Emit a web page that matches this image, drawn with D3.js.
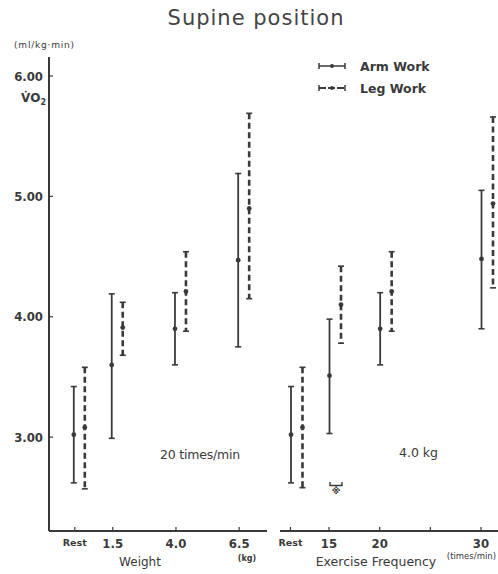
<!DOCTYPE html>
<html><head><meta charset="utf-8">
<script src="https://cdn.jsdelivr.net/npm/d3@7"></script>
<style>body{margin:0;background:#fff}svg{display:block}</style>
</head><body><svg id="c" width="498" height="574"></svg>
<script>
// ---- data ----
const weightLabels = ["Rest", "1.5", "4.0", "6.5"];
const weightPos = [0, 1.5, 4.0, 6.5];           // kg (Rest drawn at 0)
const freqLabels = ["Rest", "15", "20", "30"];
const freqPos = [11.2, 15, 20, 30];             // times/min (Rest slot)
const freqTicks = [11.2, 15, 20, 25, 30];
const yTicks = [3.00, 4.00, 5.00, 6.00];

// Weight panel (20 times/min)
const armW_mean = [3.02, 3.60, 3.90, 4.47];
const armW_hi   = [3.42, 4.19, 4.20, 5.19];
const armW_lo   = [2.62, 2.99, 3.60, 3.75];
const legW_mean = [3.08, 3.91, 4.21, 4.90];
const legW_hi   = [3.58, 4.12, 4.54, 5.69];
const legW_lo   = [2.57, 3.68, 3.88, 4.15];

// Frequency panel (4.0 kg)
const armF_mean = [3.02, 3.51, 3.90, 4.48];
const armF_hi   = [3.42, 3.98, 4.20, 5.05];
const armF_lo   = [2.62, 3.03, 3.60, 3.90];
const legF_mean = [3.08, 4.10, 4.21, 4.94];
const legF_hi   = [3.58, 4.42, 4.54, 5.66];
const legF_lo   = [2.58, 3.78, 3.88, 4.24];

// ---- drawing ----
const svg = d3.select("#c");
const ink = "#3a3a3a";
const font = "'DejaVu Sans', Arial, sans-serif";
const narrow = "'Liberation Sans Narrow', 'DejaVu Sans Condensed', sans-serif";

const y = d3.scaleLinear().domain([2.22, 6.00]).range([531, 76]);
const xW = d3.scaleLinear().domain([-1.02, 7.6]).range([49, 267]);
const xF = d3.scaleLinear().domain([15, 30]).range([329, 481]);

// title
svg.append("text").attr("x", 256).attr("y", 25).attr("text-anchor", "middle")
  .attr("font-family", font).attr("font-size", 21).attr("letter-spacing", 1)
  .attr("fill", "#444").text("Supine position");

// y axis
const yAxis = svg.append("g").attr("transform", "translate(49,0)");
yAxis.append("line").attr("y1", 57).attr("y2", 531).attr("stroke", ink).attr("stroke-width", 2);
yTicks.forEach(t => {
  yAxis.append("line").attr("x1", 0).attr("x2", 4).attr("y1", y(t)).attr("y2", y(t))
    .attr("stroke", ink).attr("stroke-width", 1.2);
  yAxis.append("text").attr("x", -6).attr("y", y(t) + 4.5).attr("text-anchor", "end")
    .attr("font-family", narrow)
    .attr("font-weight", "bold").attr("font-size", 13).attr("fill", ink).text(t.toFixed(2));
});
svg.append("text").attr("x", 14).attr("y", 48).attr("font-family", font)
  .attr("font-size", 9).attr("letter-spacing", 0.8).attr("fill", ink).text("(ml/kg·min)");
svg.append("text").attr("x", 21).attr("y", 102).attr("font-family", font)
  .attr("font-weight", "bold").attr("font-size", 12).attr("fill", ink)
  .html('V̇O<tspan font-size="8" dy="3">2</tspan>');

// x axes
function xAxis(x0, x1, ticks, sc) {
  const g = svg.append("g");
  g.append("line").attr("x1", x0).attr("x2", x1).attr("y1", 531).attr("y2", 531)
    .attr("stroke", ink).attr("stroke-width", 2);
  ticks.forEach(t => g.append("line").attr("x1", sc(t)).attr("x2", sc(t))
    .attr("y1", 531).attr("y2", 527).attr("stroke", ink).attr("stroke-width", 1.2));
}
xAxis(49, 267, weightPos, xW);
xAxis(280, 498, freqTicks, xF);

function xLabels(labels, pos, sc) {
  labels.forEach((l, i) => {
    const isRest = l === "Rest";
    svg.append("text").attr("x", sc(pos[i])).attr("y", isRest ? 546 : 548).attr("text-anchor", "middle")
      .attr("font-family", isRest ? font : narrow)
      .attr("font-weight", "bold").attr("font-size", isRest ? 9.5 : 13).attr("fill", ink).text(l);
  });
}
xLabels(weightLabels, weightPos, xW);
xLabels(freqLabels, freqPos, xF);

svg.append("text").attr("x", 140).attr("y", 566).attr("text-anchor", "middle")
  .attr("font-family", font).attr("font-size", 12).attr("fill", ink).text("Weight");
svg.append("text").attr("x", 247).attr("y", 561).attr("text-anchor", "middle")
  .attr("font-family", font).attr("font-weight", "bold").attr("font-size", 8).attr("fill", ink).text("(kg)");
svg.append("text").attr("x", 376).attr("y", 566).attr("text-anchor", "middle")
  .attr("font-family", font).attr("font-size", 12.5).attr("fill", ink).text("Exercise Frequency");
svg.append("text").attr("x", 496).attr("y", 559).attr("text-anchor", "end")
  .attr("font-family", font).attr("font-size", 8.5).attr("fill", ink).text("(times/min)");

// annotations
svg.append("text").attr("x", 160).attr("y", 459).attr("font-family", font)
  .attr("font-size", 12.5).attr("letter-spacing", -0.2).attr("fill", ink).text("20 times/min");
svg.append("text").attr("x", 399).attr("y", 457).attr("font-family", font)
  .attr("font-size", 12.5).attr("fill", ink).text("4.0 kg");

// error bars
function bars(pos, sc, mean, hi, lo, dx, dashed) {
  pos.forEach((p, i) => {
    const cx = sc(p) + dx;
    const g = svg.append("g");
    g.append("line").attr("x1", cx).attr("x2", cx).attr("y1", y(hi[i])).attr("y2", y(lo[i]))
      .attr("stroke", ink).attr("stroke-width", dashed ? 2.6 : 1.8)
      .attr("stroke-dasharray", dashed ? "6,3.5" : null);
    [hi[i], lo[i]].forEach(v => g.append("line").attr("x1", cx - 3).attr("x2", cx + 3)
      .attr("y1", y(v)).attr("y2", y(v)).attr("stroke", ink).attr("stroke-width", 1.6));
    g.append("circle").attr("cx", cx).attr("cy", y(mean[i])).attr("r", 2.4).attr("fill", ink);
  });
}
bars(weightPos, xW, armW_mean, armW_hi, armW_lo, -1, false);
bars(weightPos, xW, legW_mean, legW_hi, legW_lo, 10, true);
bars(freqPos, xF, armF_mean, armF_hi, armF_lo, 0.5, false);
bars(freqPos, xF, legF_mean, legF_hi, legF_lo, 12, true);

// significance mark between arm & leg at 15
const sx0 = xF(15) + 1, sx1 = xF(15) + 13;
svg.append("path").attr("d", `M${sx0},482 L${sx0},485.5 L${sx1},485.5 L${sx1},482`)
  .attr("fill", "none").attr("stroke", ink).attr("stroke-width", 1.4);
svg.append("text").attr("x", (sx0 + sx1) / 2).attr("y", 494).attr("text-anchor", "middle")
  .attr("font-family", font).attr("font-weight", "bold")
  .attr("font-size", 9).attr("fill", ink).text("※");

// legend
function legendItem(yy, label, dashed) {
  const g = svg.append("g");
  g.append("line").attr("x1", 319).attr("x2", 345).attr("y1", yy).attr("y2", yy)
    .attr("stroke", ink).attr("stroke-width", dashed ? 2 : 1.5)
    .attr("stroke-dasharray", dashed ? "7,2" : null);
  [319, 345].forEach(xx => g.append("line").attr("x1", xx).attr("x2", xx)
    .attr("y1", yy - 3).attr("y2", yy + 3).attr("stroke", ink).attr("stroke-width", 1.5));
  g.append("circle").attr("cx", 332).attr("cy", yy).attr("r", 2).attr("fill", ink);
  g.append("text").attr("x", 360).attr("y", yy + 4.5).attr("font-family", font)
    .attr("font-weight", "bold").attr("font-size", 12.5).attr("fill", ink).text(label);
}
legendItem(66, "Arm Work", false);
legendItem(88, "Leg Work", true);
</script>
</body></html>
